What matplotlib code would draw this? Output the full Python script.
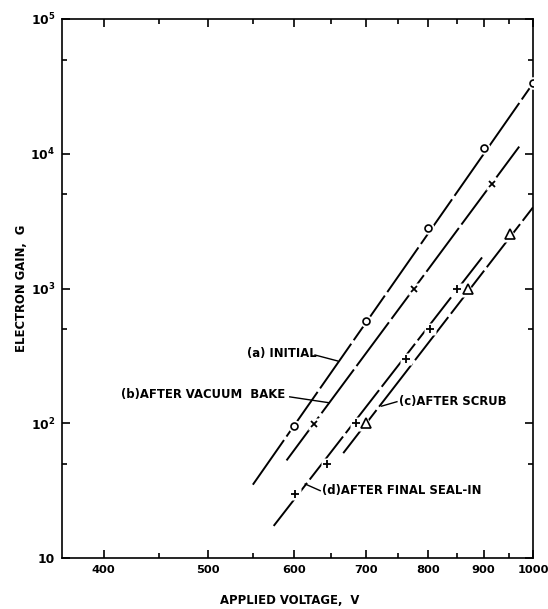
import matplotlib
matplotlib.use("Agg")
import matplotlib.pyplot as plt
from matplotlib.ticker import FixedLocator, NullFormatter

# marker points
a_volts = [600, 700, 800, 900, 1000]
a_gain = [95, 570, 2800, 11100, 33300]
b_volts = [626, 776, 916]
b_gain = [99, 1000, 6000]
c_volts = [700, 871, 952]
c_gain = [100, 1000, 2520]
d_volts = [602, 644, 686, 763, 803, 850]
d_gain = [30, 50, 101, 300, 500, 1000]

# fitted straight lines (end points)
a_line_v = [550, 1000]
a_line_g = [35, 33300]
b_line_v = [591, 971]
b_line_g = [53, 11300]
c_line_v = [667, 1000]
c_line_g = [60, 4000]
d_line_v = [575, 897]
d_line_g = [17.3, 1700]

x_ticks = [400, 500, 600, 700, 800, 900, 1000]
x_labels = ["400", "500", "600", "700", "800", "900", "1000"]
x_minor = [450, 550, 650, 750, 850, 950]
y_ticks = [10, 100, 1000, 10000, 100000]
y_labels = ["10", "$10^{2}$", "$10^{3}$", "$10^{4}$", "$10^{5}$"]
y_minor = [50, 500, 5000, 50000]


def main():
    plt.rcParams["font.family"] = ["DejaVu Sans"]
    plt.rcParams["font.weight"] = "bold"
    plt.rcParams["mathtext.default"] = "bf"

    fig = plt.figure(figsize=(5.48, 6.09), dpi=100)
    ax = fig.add_axes([62 / 548, 1 - 558 / 609, (533 - 62) / 548, (558 - 19) / 609])
    ax.set_xscale("log")
    ax.set_yscale("log")
    ax.set_xlim(366, 1000)
    ax.set_ylim(10, 100000)

    dash = (0, (28, 2.2))
    lw = 1.4
    for v, g in [(a_line_v, a_line_g), (b_line_v, b_line_g),
                 (c_line_v, c_line_g), (d_line_v, d_line_g)]:
        ax.plot(v, g, color="black", lw=lw, linestyle=dash, zorder=2)

    # white halo so the lines break at the markers
    for v, g, m, s in [(a_volts, a_gain, "o", 9), (b_volts, b_gain, "s", 8),
                       (c_volts, c_gain, "^", 11), (d_volts, d_gain, "s", 8)]:
        ax.plot(v, g, m, color="white", ms=s, mec="none", zorder=3)

    ax.plot(a_volts, a_gain, "o", ms=5, mfc="white", mec="black", mew=1.2, zorder=4)
    ax.plot(b_volts, b_gain, "x", ms=5, color="black", mew=1.3, zorder=4)
    ax.plot(c_volts, c_gain, "^", ms=7, mfc="white", mec="black", mew=1.2, zorder=4)
    ax.plot(d_volts, d_gain, "+", ms=6, color="black", mew=1.3, zorder=4)

    # labels with leader lines
    fs = 8.4
    ax.plot([628, 659], [321, 290], color="black", lw=1.0)
    ax.text(543, 332, "(a) INITIAL", fontsize=fs, ha="left", va="center")
    ax.plot([595, 647], [157, 142], color="black", lw=1.0)
    ax.text(415, 164, "(b)AFTER VACUUM  BAKE", fontsize=fs, ha="left", va="center")
    ax.plot([724, 748], [134, 144.5], color="black", lw=1.0)
    ax.text(751, 145, "(c)AFTER SCRUB", fontsize=fs, ha="left", va="center")
    ax.plot([615, 635], [35.4, 31.6], color="black", lw=1.0)
    ax.text(638, 31.6, "(d)AFTER FINAL SEAL-IN", fontsize=fs, ha="left", va="center")

    # ticks
    ax.xaxis.set_major_locator(FixedLocator(x_ticks))
    ax.set_xticklabels(x_labels)
    ax.xaxis.set_minor_locator(FixedLocator(x_minor))
    ax.xaxis.set_minor_formatter(NullFormatter())
    ax.yaxis.set_major_locator(FixedLocator(y_ticks))
    ax.set_yticklabels(y_labels)
    ax.yaxis.set_minor_locator(FixedLocator(y_minor))
    ax.yaxis.set_minor_formatter(NullFormatter())
    ax.tick_params(which="both", direction="in", top=True, right=True,
                   width=1.2, pad=5)
    ax.tick_params(axis="x", labelsize=8.2)
    ax.tick_params(axis="y", labelsize=8.8)
    ax.tick_params(which="major", length=6)
    ax.tick_params(which="minor", length=3.5)
    for sp in ax.spines.values():
        sp.set_linewidth(1.2)

    # axis titles placed in figure pixels
    fig.text(290 / 548, 1 - 601 / 609, "APPLIED VOLTAGE,  V", fontsize=fs,
             ha="center", va="center")
    fig.text(22 / 548, 1 - 288 / 609, "ELECTRON GAIN,  G", fontsize=fs,
             ha="center", va="center", rotation=90)

    fig.savefig("out.png", dpi=100)


if __name__ == "__main__":
    main()
